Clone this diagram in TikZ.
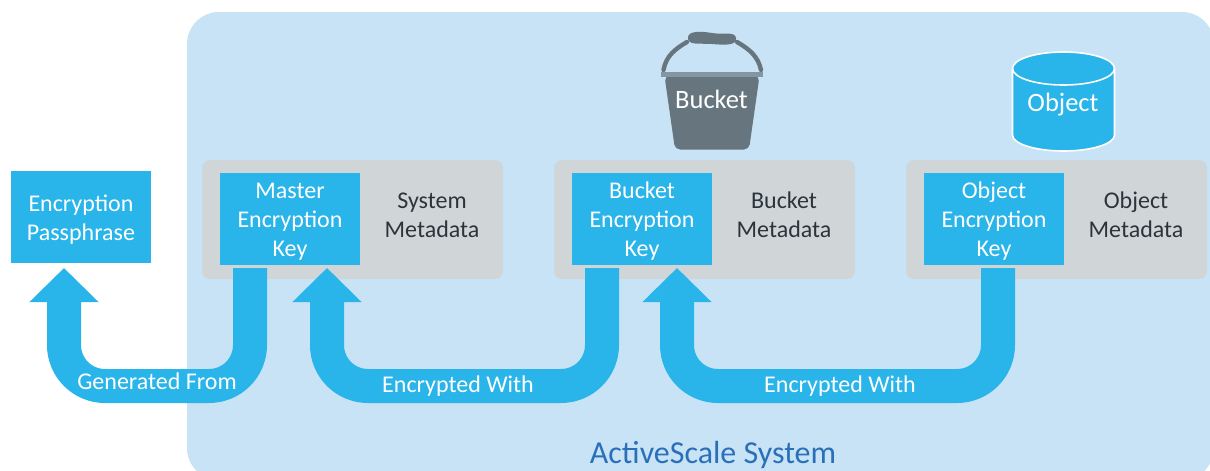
\documentclass[tikz,border=0pt]{standalone}
\usepackage{fontspec}
\setmainfont{Carlito}
\usetikzlibrary{arrows.meta}
\definecolor{sky}{HTML}{29B4EA}
\definecolor{panelblue}{HTML}{C9E3F6}
\definecolor{metagrey}{HTML}{D0D5D8}
\definecolor{bucketgrey}{HTML}{66757E}
\definecolor{titleblue}{HTML}{2A70B8}
\definecolor{metatext}{HTML}{2A353B}
\newcommand{\downtwo}{\rule{0pt}{20pt}}
\newcommand{\downthree}{\rule{0pt}{21.5pt}}
\tikzset{
  metabox/.style={fill=metagrey,rounded corners=8pt,minimum width=301pt,minimum height=119pt,inner sep=0pt},
  keybox/.style={fill=sky,text=white,minimum width=140pt,minimum height=92pt,inner sep=0pt,align=center,font=\fontsize{24}{29}\selectfont},
  metalabel/.style={text=metatext,align=center,inner sep=0pt,font=\fontsize{24}{29}\selectfont},
  whitelabel/.style={text=white,align=center,inner sep=0pt,font=\fontsize{24}{29}\selectfont},
  ubend/.style={draw=sky,line width=34pt,rounded corners=41pt,-{Triangle[length=34pt,width=67pt,fill=sky]}},
}
\begin{document}
\begin{tikzpicture}[x=1pt,y=-1pt]
\useasboundingbox (0,0) rectangle (1210,471);
\clip (0,0) rectangle (1210,471);
\fill[white] (0,0) rectangle (1210,471);
% panel
\fill[panelblue,rounded corners=32pt] (187,12) rectangle (1214,480);
% metadata panels
\node[metabox] (m1) at (352.5,219.5) {};
\node[metabox] (m2) at (704.5,219.5) {};
\node[metabox] (m3) at (1056.5,219.5) {};
% keys
\node[keybox] (k1) at (290,219) {\downtwo Master\\Encryption\\Key};
\node[keybox] (k2) at (642,219) {\downtwo Bucket\\Encryption\\Key};
\node[keybox] (k3) at (994,219) {\downtwo Object\\Encryption\\Key};
\node[keybox] (pass) at (81,217) {\downthree Encryption\\Passphrase};
\node[metalabel] (t1) at (432,215) {System\\Metadata};
\node[metalabel] (t2) at (784,215) {Bucket\\Metadata};
\node[metalabel] (t3) at (1136,215) {Object\\Metadata};
% arrows
\coordinate (s1) at (250,268);
\coordinate (e1) at (64,268);
\coordinate (s2) at (602,268);
\coordinate (e2) at (327,268);
\coordinate (s3) at (998,268);
\coordinate (e3) at (677,268);
\draw[ubend] (s1) -- (s1 |- 0,386) -- (e1 |- 0,386) -- (e1);
\draw[ubend] (s2) -- (s2 |- 0,386) -- (e2 |- 0,386) -- (e2);
\draw[ubend] (s3) -- (s3 |- 0,386) -- (e3 |- 0,386) -- (e3);
\node[whitelabel] (l1) at (157,381.5) {Generated From};
\node[whitelabel] (l2) at (458,386.5) {Encrypted With};
\node[whitelabel] (l3) at (840,386.5) {Encrypted With};
\node[text=titleblue,inner sep=0pt,font=\fontsize{32}{36}\selectfont] (title) at (713,454.5) {ActiveScale System};
% bucket
\draw[bucketgrey,line width=4.4pt,line cap=round] (663.5,70) .. controls (666,56) and (675,49) .. (687,42);
\draw[bucketgrey,line width=4.4pt,line cap=round] (737,42) .. controls (749,49) and (758,56) .. (761,70);
\fill[bucketgrey] (688,37) .. controls (689,31) and (700,31) .. (712,33) .. controls (724,35) and (735,31) .. (736,38) .. controls (737,46) and (724,45) .. (712,44) .. controls (700,43) and (687,46) .. (688,37) -- cycle;
\fill[bucketgrey,rounded corners=5pt] (664.5,76) -- (759.5,76) -- (749,149.5) -- (675,149.5) -- cycle;
\fill[bucketgrey!70!panelblue] (661,72) rectangle (763,76.5);
\node[text=white,inner sep=0pt,font=\fontsize{26.5}{30}\selectfont] (bucket) at (711.5,99.5) {Bucket};
% cylinder
\draw[white,line width=1.6pt,fill=sky] (1012.5,68.5) -- (1012.5,135) arc[start angle=180,end angle=360,x radius=51,y radius=-16] -- (1114.5,68.5) arc[start angle=0,end angle=180,x radius=51,y radius=-16.5] -- cycle;
\draw[white,line width=1.6pt] (1012.5,68.5) arc[start angle=180,end angle=360,x radius=51,y radius=-16.5];
\node[text=white,inner sep=0pt,font=\fontsize{26.5}{30}\selectfont] (object) at (1063,105) {Object};
\end{tikzpicture}
\end{document}
